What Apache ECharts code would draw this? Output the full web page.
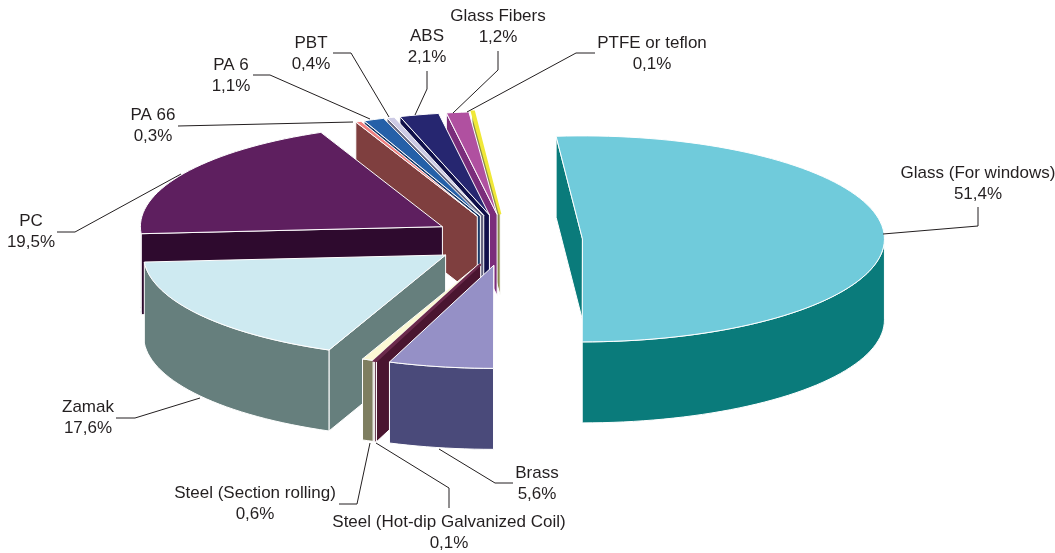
<!DOCTYPE html>
<html>
<head>
<meta charset="utf-8">
<title>Materials</title>
<script src="https://cdn.jsdelivr.net/npm/echarts@6/dist/echarts.min.js"></script>
<style>
html, body { margin: 0; padding: 0; background: #fff; }
#chart { width: 1055px; height: 553px; }
</style>
</head>
<body>
<div id="chart"></div>
<script>
// shares in %, clockwise from the glass slice
var names = ['Glass (For windows)', 'Brass', 'Steel (Hot-dip Galvanized Coil)', 'Steel (Section rolling)', 'Zamak', 'PC', 'PA 66', 'PA 6', 'PBT', 'ABS', 'Glass Fibers', 'PTFE or teflon'];
var shares = [51.4, 5.6, 0.1, 0.6, 17.6, 19.5, 0.3, 1.1, 0.4, 2.1, 1.2, 0.1];

var topColors = ['#70cbdb', '#9590c6', '#6b2a4c', '#fcf9d5', '#ceeaf1', '#5e1f5f', '#f08080', '#2560a8', '#cdcbe5', '#262670', '#b050a0', '#f0e838'];
var sideColors = ['#0a7b7b', '#4a4a7a', '#4a1530', '#7e7e60', '#667f7d', '#4a1a50', '#7f3f3f', '#1a3a68', '#666680', '#10104a', '#7b2d7b', '#8a8a4a'];
var cutColors = ['#0a7b7b', '#4a4a7a', '#4a1530', '#7e7e60', '#667f7d', '#2e0a2e', '#7f3f3f', '#1a3a68', '#666680', '#10104a', '#7b2d7b', '#8a8a4a'];

// label anchor: centre x, first line middle y
var labelPos = [[978, 173], [537, 473], [449, 522], [255, 493], [88, 407], [31, 221], [153, 115], [231, 65], [311, 43], [427, 36], [498, 16], [652, 43]];
// leader lines
var leaders = [
    [[883, 234], [978, 226], [978, 207]],
    [[439, 449], [495, 483], [513, 483]],
    [[376, 443], [449, 488], [449, 508]],
    [[370, 443], [357, 504], [339, 504]],
    [[200, 398], [135, 418], [116, 418]],
    [[181, 174], [75, 232], [57, 232]],
    [[353, 122], [178, 126]],
    [[370, 119], [270, 75], [253, 75]],
    [[389, 117], [351, 53], [333, 53]],
    [[415, 115], [427, 89], [427, 71]],
    [[453, 113], [498, 70], [498, 51]],
    [[467, 112], [576, 53], [595, 53]]
];

var cx = 507, cy = 240;   // pie centre before exploding
var rx = 302, ry = 103;
var depth = 81;
var explode = 0.25;
var startAngle = -5;
var lineHeight = 21.5;

var chart = echarts.init(document.getElementById('chart'));

function rad(a) {
    return a * Math.PI / 180;
}

// angle runs clockwise from 12 o'clock
function slicePart(i) {
    var before = 0;
    for (var k = 0; k < i; k++) {
        before += shares[k];
    }
    var a0 = startAngle + before * 3.6;
    var a1 = a0 + shares[i] * 3.6;
    var mid = rad((a0 + a1) / 2);
    return {
        a0: a0,
        a1: a1,
        x: cx + explode * rx * Math.sin(mid),
        y: cy - explode * ry * Math.cos(mid)
    };
}

function rimPoint(s, a, down) {
    return [s.x + rx * Math.sin(rad(a)), s.y - ry * Math.cos(rad(a)) + down];
}

function arcPoints(s, a0, a1, down) {
    var pts = [];
    var n = Math.max(2, Math.ceil(Math.abs(a1 - a0) / 2));
    for (var k = 0; k <= n; k++) {
        pts.push(rimPoint(s, a0 + (a1 - a0) * k / n, down));
    }
    return pts;
}

function poly(points, color, stroke, width) {
    return {
        type: 'polygon',
        shape: { points: points },
        style: { fill: color, stroke: stroke || '#fff', lineWidth: width || 1 }
    };
}

function renderSlice(params, api) {
    var i = api.value(0);
    var s = slicePart(i);
    var children = [];

    // cut face on the start side, seen only on the left half
    if (Math.sin(rad(s.a0)) < 0) {
        var rim = rimPoint(s, s.a0, 0);
        children.push(poly([[s.x, s.y], rim, [rim[0], rim[1] + depth], [s.x, s.y + depth]], cutColors[i]));
    }

    // outer wall, front half only
    var from = Math.max(s.a0, 90);
    var to = Math.min(s.a1, 270);
    if (to > from) {
        var upper = arcPoints(s, from, to, 0);
        var lower = arcPoints(s, from, to, depth).reverse();
        children.push(poly(upper.concat(lower), sideColors[i]));
    }

    // top face, very thin slices would vanish under a white edge
    var thin = shares[i] < 0.2;
    children.push(poly([[s.x, s.y]].concat(arcPoints(s, s.a0, s.a1, 0)), topColors[i], thin ? topColors[i] : '#fff', thin ? 2.5 : 1));

    return { type: 'group', children: children };
}

function label(i) {
    return {
        type: 'text',
        x: labelPos[i][0],
        y: labelPos[i][1] - lineHeight / 2,
        z: 10,
        style: {
            text: names[i] + '\n' + String(shares[i]).replace('.', ',') + '%',
            font: '17px "Liberation Sans", Arial, sans-serif',
            lineHeight: lineHeight,
            fill: '#231f20',
            align: 'center',
            verticalAlign: 'top'
        }
    };
}

function leader(i) {
    return {
        type: 'polyline',
        z: 10,
        shape: { points: leaders[i] },
        style: { fill: null, stroke: '#231f20', lineWidth: 1 }
    };
}

// back slices first so the front ones paint over them
var order = names.map(function (n, i) { return [i]; }).reverse();

var graphics = [];
names.forEach(function (n, i) {
    graphics.push(leader(i));
    graphics.push(label(i));
});

chart.setOption({
    animation: false,
    backgroundColor: '#fff',
    graphic: graphics,
    series: [{
        type: 'custom',
        coordinateSystem: 'none',
        silent: true,
        renderItem: renderSlice,
        data: order
    }]
});
</script>
</body>
</html>
